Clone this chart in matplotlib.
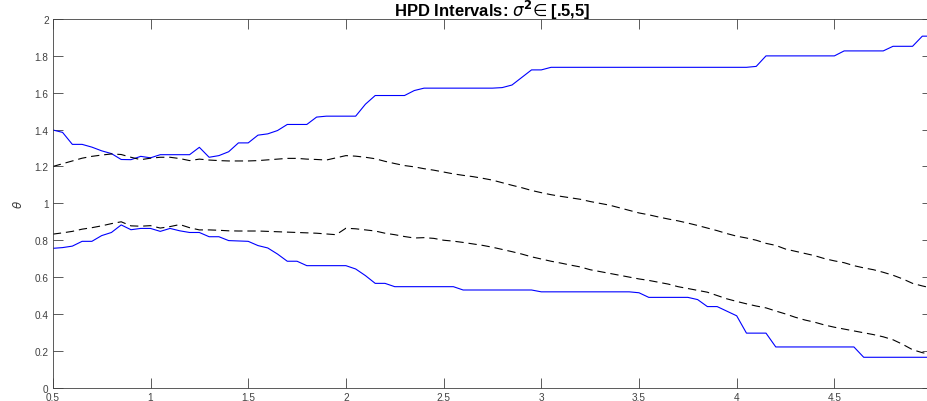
#!/usr/bin/env python3
"""HPD intervals for theta over a grid of sigma^2 values."""

import matplotlib
matplotlib.use("Agg")
import matplotlib.pyplot as plt
from matplotlib.ticker import FormatStrFormatter

# sigma^2 grid
sigma2 = [
    0.50, 0.55, 0.60, 0.65, 0.70, 0.75, 0.80, 0.85, 0.90, 0.95,
    1.00, 1.05, 1.10, 1.15, 1.20, 1.25, 1.30, 1.35, 1.40, 1.45,
    1.50, 1.55, 1.60, 1.65, 1.70, 1.75, 1.80, 1.85, 1.90, 1.95,
    2.00, 2.05, 2.10, 2.15, 2.20, 2.25, 2.30, 2.35, 2.40, 2.45,
    2.50, 2.55, 2.60, 2.65, 2.70, 2.75, 2.80, 2.85, 2.90, 2.95,
    3.00, 3.05, 3.10, 3.15, 3.20, 3.25, 3.30, 3.35, 3.40, 3.45,
    3.50, 3.55, 3.60, 3.65, 3.70, 3.75, 3.80, 3.85, 3.90, 3.95,
    4.00, 4.05, 4.10, 4.15, 4.20, 4.25, 4.30, 4.35, 4.40, 4.45,
    4.50, 4.55, 4.60, 4.65, 4.70, 4.75, 4.80, 4.85, 4.90, 4.95,
    5.00,
]

# upper HPD bound (blue, solid)
hpd_upper = [
    1.398, 1.385, 1.320, 1.320, 1.305, 1.285, 1.270, 1.238, 1.237, 1.255,
    1.247, 1.264, 1.264, 1.264, 1.264, 1.304, 1.250, 1.259, 1.280, 1.328,
    1.328, 1.370, 1.377, 1.395, 1.428, 1.428, 1.428, 1.468, 1.473, 1.473,
    1.473, 1.473, 1.538, 1.585, 1.585, 1.585, 1.585, 1.612, 1.625, 1.625,
    1.625, 1.625, 1.625, 1.625, 1.625, 1.625, 1.628, 1.642, 1.683, 1.724,
    1.724, 1.738, 1.738, 1.738, 1.738, 1.738, 1.738, 1.738, 1.738, 1.738,
    1.738, 1.738, 1.738, 1.738, 1.738, 1.738, 1.738, 1.738, 1.738, 1.738,
    1.738, 1.738, 1.743, 1.800, 1.800, 1.800, 1.800, 1.800, 1.800, 1.800,
    1.800, 1.827, 1.827, 1.827, 1.827, 1.827, 1.852, 1.852, 1.852, 1.907,
    1.907,
]

# lower HPD bound (blue, solid)
hpd_lower = [
    0.756, 0.760, 0.768, 0.794, 0.794, 0.825, 0.842, 0.883, 0.857, 0.864,
    0.864, 0.848, 0.864, 0.851, 0.842, 0.842, 0.819, 0.819, 0.798, 0.796,
    0.794, 0.771, 0.758, 0.725, 0.686, 0.686, 0.662, 0.662, 0.662, 0.662,
    0.662, 0.644, 0.608, 0.566, 0.566, 0.548, 0.548, 0.548, 0.548, 0.548,
    0.548, 0.548, 0.530, 0.530, 0.530, 0.530, 0.530, 0.530, 0.530, 0.530,
    0.520, 0.520, 0.520, 0.520, 0.520, 0.520, 0.520, 0.520, 0.520, 0.520,
    0.515, 0.490, 0.490, 0.490, 0.490, 0.490, 0.478, 0.440, 0.440, 0.415,
    0.390, 0.296, 0.296, 0.296, 0.221, 0.221, 0.221, 0.221, 0.221, 0.221,
    0.221, 0.221, 0.221, 0.165, 0.165, 0.165, 0.165, 0.165, 0.165, 0.165,
    0.165,
]

# comparison bounds (black, dashed)
ref_upper = [
    1.200, 1.215, 1.230, 1.245, 1.255, 1.262, 1.268, 1.265, 1.250, 1.237,
    1.245, 1.250, 1.250, 1.243, 1.232, 1.240, 1.235, 1.232, 1.230, 1.230,
    1.230, 1.232, 1.236, 1.240, 1.244, 1.244, 1.240, 1.238, 1.235, 1.247,
    1.259, 1.256, 1.250, 1.242, 1.228, 1.216, 1.205, 1.198, 1.188, 1.180,
    1.170, 1.160, 1.152, 1.145, 1.136, 1.126, 1.112, 1.098, 1.085, 1.070,
    1.058, 1.047, 1.038, 1.030, 1.022, 1.010, 1.000, 0.990, 0.976, 0.962,
    0.948, 0.938, 0.926, 0.915, 0.905, 0.893, 0.880, 0.866, 0.852, 0.836,
    0.822, 0.812, 0.800, 0.783, 0.772, 0.752, 0.740, 0.728, 0.716, 0.700,
    0.688, 0.678, 0.662, 0.650, 0.640, 0.626, 0.610, 0.590, 0.566, 0.552,
    0.540,
]

ref_lower = [
    0.833, 0.840, 0.848, 0.860, 0.868, 0.878, 0.890, 0.900, 0.878, 0.876,
    0.879, 0.866, 0.874, 0.885, 0.868, 0.856, 0.856, 0.854, 0.851, 0.850,
    0.850, 0.850, 0.848, 0.846, 0.844, 0.842, 0.840, 0.838, 0.834, 0.830,
    0.865, 0.862, 0.856, 0.850, 0.838, 0.830, 0.820, 0.812, 0.814, 0.810,
    0.800, 0.795, 0.788, 0.780, 0.772, 0.762, 0.750, 0.738, 0.725, 0.710,
    0.698, 0.686, 0.676, 0.665, 0.655, 0.640, 0.630, 0.620, 0.610, 0.600,
    0.590, 0.582, 0.572, 0.562, 0.548, 0.538, 0.528, 0.518, 0.500, 0.482,
    0.468, 0.455, 0.443, 0.433, 0.416, 0.400, 0.382, 0.367, 0.355, 0.340,
    0.328, 0.318, 0.308, 0.298, 0.288, 0.276, 0.260, 0.235, 0.206, 0.190,
    0.180,
]

# the tick at 5 falls outside the cropped picture, so it is left out
x_ticks = [0.5, 1, 1.5, 2, 2.5, 3, 3.5, 4, 4.5]
y_ticks = [0, 0.2, 0.4, 0.6, 0.8, 1, 1.2, 1.4, 1.6, 1.8, 2]


def main():
    plt.rcParams["font.family"] = ["Liberation Sans", "DejaVu Sans"]
    plt.rcParams["lines.scale_dashes"] = False

    fig = plt.figure(figsize=(9.28, 4.02), dpi=100)
    # right edge of the axes sits just past the figure border, as in the original crop
    ax = fig.add_axes([0.0569, 0.0331, 0.9475, 0.9171])

    axis_col = "#404040"
    ax.plot(sigma2, hpd_upper, color="#0000ff", linewidth=0.8)
    ax.plot(sigma2, hpd_lower, color="#0000ff", linewidth=0.8)
    ax.plot(sigma2, ref_upper, color="black", linewidth=0.8, dashes=(6, 3.5))
    ax.plot(sigma2, ref_lower, color="black", linewidth=0.8, dashes=(6, 3.5))

    ax.set_xlim(0.5, 5)
    ax.set_ylim(0, 2)
    ax.set_xticks(x_ticks)
    ax.set_yticks(y_ticks)
    ax.xaxis.set_major_formatter(FormatStrFormatter("%g"))
    ax.yaxis.set_major_formatter(FormatStrFormatter("%g"))
    ax.tick_params(direction="in", top=True, right=True, length=7, width=0.6,
                   colors=axis_col, labelsize=7.2, pad=3)
    for sp in ax.spines.values():
        sp.set_color(axis_col)
        sp.set_linewidth(0.6)

    ax.set_ylabel(r"$\theta$", fontsize=8.5, color=axis_col, labelpad=7)
    ax.set_title(r"HPD Intervals: $\sigma^{\mathbf{2}}\!\in$[.5,5]",
                 fontsize=12, fontweight="bold", pad=2)

    fig.savefig("out.png", dpi=100)


if __name__ == "__main__":
    main()
